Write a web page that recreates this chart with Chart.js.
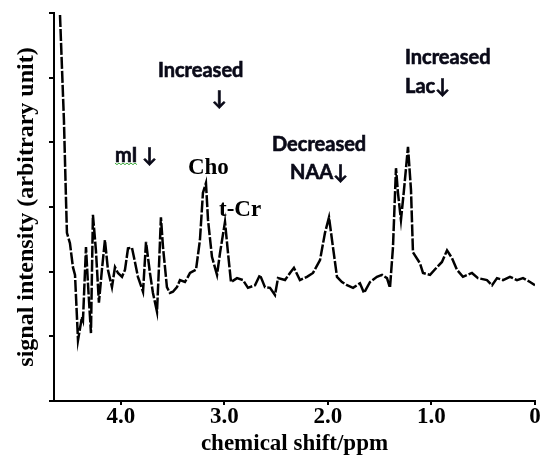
<!DOCTYPE html>
<html>
<head>
<meta charset="utf-8">
<script src="https://cdn.jsdelivr.net/npm/chart.js@4.4.1/dist/chart.umd.min.js"></script>
<style>
html,body{margin:0;padding:0;background:#fff;}
#wrap{width:544px;height:459px;}
</style>
</head>
<body>
<div id="wrap"><canvas id="c" width="544" height="459"></canvas></div>
<script>
// chemical shift (ppm) of each trace point
const ppm = [4.589,4.551,4.531,4.522,4.493,4.464,4.444,4.415,4.377,4.367,4.338,4.319,4.290,4.271,4.242,4.213,4.184,4.155,4.126,4.087,4.058,4.029,3.990,3.961,3.932,3.894,3.865,3.836,3.787,3.758,3.720,3.691,3.652,3.633,3.614,3.594,3.556,3.527,3.498,3.459,3.430,3.382,3.353,3.333,3.275,3.237,3.208,3.179,3.159,3.121,3.072,3.043,2.995,2.966,2.937,2.879,2.821,2.773,2.705,2.657,2.609,2.560,2.512,2.483,2.415,2.367,2.329,2.271,2.203,2.145,2.077,2.029,1.990,1.952,1.913,1.865,1.816,1.758,1.691,1.652,1.594,1.527,1.478,1.430,1.401,1.372,1.343,1.324,1.295,1.266,1.227,1.198,1.179,1.111,1.082,1.014,0.947,0.899,0.850,0.802,0.754,0.696,0.609,0.551,0.464,0.415,0.367,0.309,0.242,0.174,0.116,0.048,0.000];
// signal intensity (arbitrary unit)
const intensity = [5.97,4.34,3.11,2.60,2.44,2.07,1.95,0.94,1.30,1.25,2.38,1.82,1.05,2.88,2.33,1.52,2.03,2.49,2.03,1.76,2.07,1.98,1.92,2.03,2.36,2.37,2.15,1.92,1.69,2.46,1.98,1.67,1.38,2.07,2.84,2.38,1.76,1.67,1.69,1.76,1.87,1.84,1.92,1.98,2.03,2.49,3.22,3.37,2.80,2.23,1.95,2.29,2.77,2.29,1.84,1.90,1.87,1.75,1.79,1.95,1.76,1.75,1.64,1.90,1.87,1.98,2.06,1.87,1.92,1.98,2.18,2.60,2.84,2.38,1.92,1.84,1.79,1.75,1.82,1.67,1.84,1.92,1.95,1.90,1.75,2.38,3.60,3.22,2.80,3.26,3.93,3.26,2.30,2.13,1.98,1.95,2.07,2.15,2.33,2.21,2.03,1.92,1.98,1.90,1.87,1.79,1.90,1.87,1.92,1.87,1.90,1.84,1.79];

const xTickValues = [4, 3, 2, 1, 0];
const xTickLabels = ['4.0', '3.0', '2.0', '1.0', '0'];
const yTickValues = [0, 1, 2, 3, 4, 5, 6];

// annotation texts and their anchor (ppm, intensity)
const annoTexts = ['Increased', '\u2193', 'mI \u2193', 'Cho', 't-Cr', 'Decreased', 'NAA\u2193', 'Increased', 'Lac\u2193'];
const annoPpm   = [3.643, 3.121, 4.058, 3.353, 3.053, 2.541, 2.367, 1.256, 1.256];
const annoVal   = [5.116, 4.683, 3.802, 3.601, 2.952, 3.972, 3.539, 5.317, 4.869];
const annoSerif = [false, false, false, true, true, false, false, false, false];

const serifFamily = "'Liberation Serif', 'Times New Roman', serif";

const annotationPlugin = {
  id: 'annos',
  afterDatasetsDraw(chart) {
    const ctx = chart.ctx;
    const xs = chart.scales.x, ys = chart.scales.y;
    ctx.save();
    ctx.textAlign = 'left';
    ctx.textBaseline = 'middle';
    annoTexts.forEach((t, i) => {
      const px = xs.getPixelForValue(annoPpm[i]);
      const py = ys.getPixelForValue(annoVal[i]);
      if (annoSerif[i]) {
        ctx.font = "bold 23px 'Liberation Serif', serif";
        ctx.fillStyle = '#000';
        ctx.fillText(t, px, py);
      } else {
        ctx.font = "bold 20px Lato, 'DejaVu Sans', sans-serif";
        ctx.fillStyle = '#0a0a18';
        ctx.strokeStyle = '#0a0a18';
        ctx.lineWidth = 0.6;
        ctx.fillText(t, px, py);
        ctx.strokeText(t, px, py);
      }
      if (t.indexOf('mI') === 0) {
        const w = ctx.measureText('mI').width;
        ctx.beginPath();
        ctx.strokeStyle = '#3aa83a';
        ctx.lineWidth = 1;
        const y0 = py + 8;
        for (let k = 0; k <= w; k += 2) {
          const yy = y0 + ((k / 2) % 2 === 0 ? 0 : 1.5);
          if (k === 0) ctx.moveTo(px + k, yy); else ctx.lineTo(px + k, yy);
        }
        ctx.stroke();
      }
    });
    ctx.restore();
  }
};

new Chart(document.getElementById('c'), {
  type: 'line',
  data: {
    datasets: [{
      data: ppm.map((p, i) => ({x: p, y: intensity[i]})),
      borderColor: '#000',
      borderWidth: 2.5,
      borderDash: [12, 2],
      pointRadius: 0,
      tension: 0,
      fill: false
    }]
  },
  options: {
    responsive: false,
    animation: false,
    layout: {padding: {left: 0, right: 9, top: 13, bottom: 0}},
    plugins: {legend: {display: false}, tooltip: {enabled: false}},
    scales: {
      x: {
        type: 'linear',
        reverse: true,
        min: 0,
        max: 4.647,
        afterBuildTicks: s => { s.ticks = xTickValues.map(v => ({value: v})); },
        afterFit: s => { s.height = 58; },
        ticks: {
          autoSkip: false,
          maxRotation: 0,
          padding: 1,
          color: '#000',
          font: {family: serifFamily, weight: 'bold', size: 23, lineHeight: 1},
          callback: v => xTickLabels[xTickValues.indexOf(v)]
        },
        grid: {display: true, drawOnChartArea: false, drawTicks: true, tickLength: 4, color: '#000', lineWidth: 2},
        border: {display: true, color: '#000', width: 2},
        title: {display: true, text: 'chemical shift/ppm', color: '#000', font: {family: serifFamily, weight: 'bold', size: 23, lineHeight: 1}, padding: {top: 0, bottom: 3}}
      },
      y: {
        type: 'linear',
        min: 0,
        max: 6,
        afterBuildTicks: s => { s.ticks = yTickValues.map(v => ({value: v})); },
        afterFit: s => { s.width = 54; },
        ticks: {display: false},
        grid: {display: true, drawOnChartArea: false, drawTicks: true, tickLength: 5, color: '#000', lineWidth: 2},
        border: {display: true, color: '#000', width: 2},
        title: {display: true, text: 'signal intensity (arbitrary unit)', color: '#000', font: {family: serifFamily, weight: 'bold', size: 24, lineHeight: 1}, padding: {top: 15, bottom: 0}}
      }
    }
  },
  plugins: [annotationPlugin]
});
</script>
</body>
</html>
